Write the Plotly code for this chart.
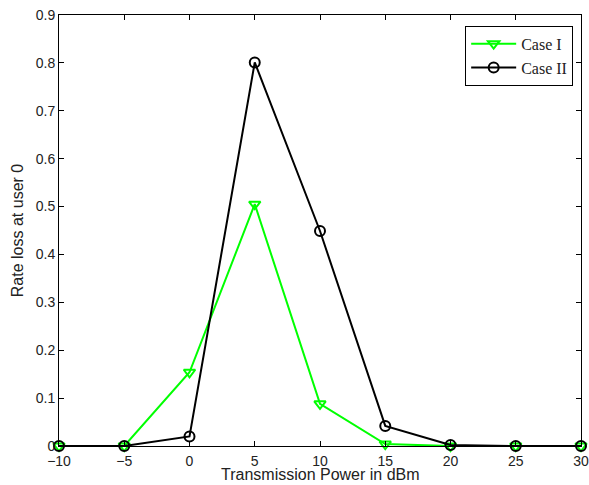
import plotly.graph_objects as go

power_dbm = [-10, -5, 0, 5, 10, 15, 20, 25, 30]
case1 = [0.0, 0.0, 0.154, 0.505, 0.088, 0.004, 0.0, 0.0, 0.0]
case2 = [0.0, 0.0, 0.020, 0.801, 0.449, 0.042, 0.002, 0.0, 0.0]
x_ticks = [-10, -5, 0, 5, 10, 15, 20, 25, 30]
y_ticks = [0, 0.1, 0.2, 0.3, 0.4, 0.5, 0.6, 0.7, 0.8, 0.9]
x_title = "Transmission Power in dBm"
y_title = "Rate loss at user 0"

fig = go.Figure()
fig.add_trace(go.Scatter(
    x=power_dbm, y=case1, name="Case I", mode="lines+markers",
    line=dict(color="#00FF00", width=2),
    marker=dict(symbol="triangle-down-open", size=10, color="#00FF00", line=dict(width=2)),
    cliponaxis=False,
))
fig.add_trace(go.Scatter(
    x=power_dbm, y=case2, name="Case II", mode="lines+markers",
    line=dict(color="black", width=2),
    marker=dict(symbol="circle-open", size=10, color="black", line=dict(width=2)),
    cliponaxis=False,
))

axis_common = dict(
    showgrid=False, zeroline=False, showline=True, linecolor="black", linewidth=1,
    mirror="ticks", ticks="inside", ticklen=5, tickcolor="black",
    ticklabeloverflow="allow",
    tickfont=dict(family="Liberation Sans, Arial", size=14, color="#222"),
)
fig.update_xaxes(range=[-10, 30], tickvals=x_ticks, ticklabelstandoff=2, **axis_common)
fig.update_yaxes(range=[0, 0.9], tickvals=y_ticks,
                 ticktext=["0", "0.1", "0.2", "0.3", "0.4", "0.5", "0.6", "0.7", "0.8", "0.9"],
                 title=dict(text=y_title, standoff=8,
                            font=dict(family="Liberation Sans, Arial", size=16, color="#222")),
                 **axis_common)

fig.add_annotation(text=x_title, xref="paper", yref="paper", x=0.5, y=-0.088,
                   xanchor="center", yanchor="bottom", showarrow=False, borderpad=0,
                   font=dict(family="Liberation Sans, Arial", size=16, color="#222"))

fig.update_layout(
    width=589, height=485,
    margin=dict(l=59, r=8, t=15, b=39, autoexpand=False),
    plot_bgcolor="white", paper_bgcolor="white",
    legend=dict(x=0.985, y=0.975, xanchor="right", yanchor="top",
                bordercolor="black", borderwidth=1, bgcolor="white",
                font=dict(family="Liberation Serif, Times New Roman", size=16, color="#222"),
                tracegroupgap=0, itemwidth=45),
    showlegend=True,
)

fig.write_html("out.html", config={"displayModeBar": False},
               post_script="document.body.style.margin='0';")
